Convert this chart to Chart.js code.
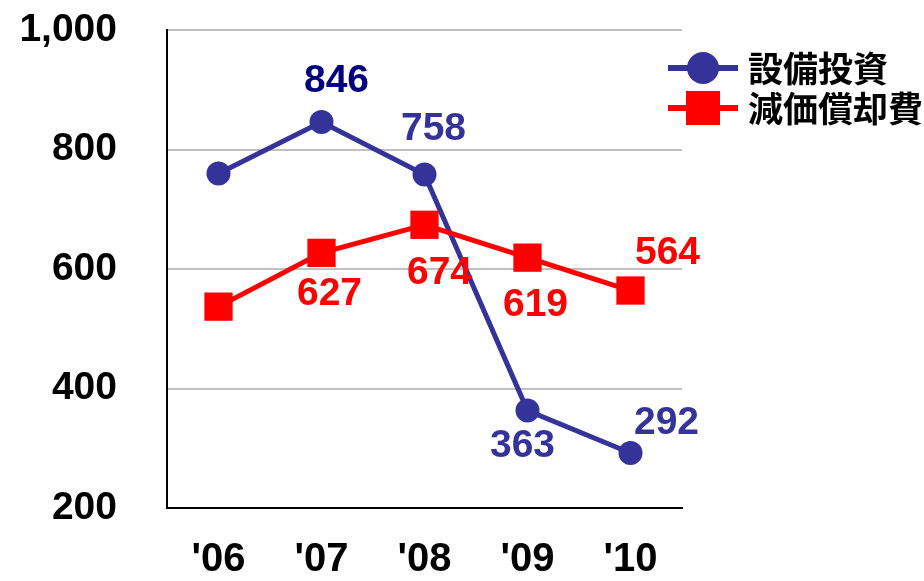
<!DOCTYPE html>
<html><head><meta charset="utf-8">
<script src="https://cdn.jsdelivr.net/npm/chart.js@4/dist/chart.umd.min.js"></script>
<style>html,body{margin:0;padding:0;background:#fff}#wrap{width:924px;height:581px}</style>
</head>
<body><div id="wrap"><canvas id="c" width="924" height="581"></canvas></div>
<script>
// ---- data ----
const categories = ["'06", "'07", "'08", "'09", "'10"];
const capexLabel = "設備投資";
const capexValues = [760, 846, 758, 363, 292];
const deprLabel = "減価償却費";
const deprValues = [537, 627, 674, 619, 564];
const yTickValues = [200, 400, 600, 800, 1000];

// which points carry a value label (the first year is unlabeled)
const capexShowLabel = [false, true, true, true, true];
const deprShowLabel = [false, true, true, true, true];

// ---- styling (kept separate from data) ----
const BLUE = '#333399';
const RED = '#ff0000';
const capexLabelOffsets = [[0,0],[15,-41],[9,-45],[-5,36],[36,-30]];
const capexLabelColors = [BLUE,'#000080',BLUE,BLUE,BLUE];
const deprLabelOffsets = [[0,0],[8,41],[15,48],[8,48],[37,-37]];
const LATIN = "'Liberation Sans', Arial, sans-serif";
const CJK = "'Noto Sans CJK JP', sans-serif";

const valueLabels = {
  id: 'valueLabels',
  afterDatasetsDraw(chart) {
    const ctx = chart.ctx;
    ctx.save();
    ctx.font = 'bold 39px ' + LATIN;
    ctx.textAlign = 'center';
    ctx.textBaseline = 'middle';
    chart.data.datasets.forEach((ds, di) => {
      const meta = chart.getDatasetMeta(di);
      meta.data.forEach((pt, i) => {
        if (!ds.showLabel[i]) return;
        const off = ds.labelOffsets[i];
        ctx.fillStyle = ds.labelColors[i];
        ctx.fillText(String(ds.data[i]), pt.x + off[0], pt.y + off[1]);
      });
    });
    ctx.restore();
  }
};

const customLegend = {
  id: 'customLegend',
  afterDraw(chart) {
    const ctx = chart.ctx;
    const items = [chart.data.datasets[1], chart.data.datasets[0]]; // capex first
    ctx.save();
    items.forEach((ds, k) => {
      const cy = 68 + k * 40;
      const x0 = 668, x1 = 738, cx = 703;
      ctx.strokeStyle = ds.borderColor;
      ctx.lineWidth = 6;
      ctx.beginPath(); ctx.moveTo(x0, cy); ctx.lineTo(x1, cy); ctx.stroke();
      ctx.fillStyle = ds.pointBackgroundColor;
      if (ds.pointStyle === 'circle') {
        ctx.beginPath(); ctx.arc(cx, cy, 16, 0, Math.PI * 2); ctx.fill();
      } else {
        ctx.fillRect(cx - 17, cy - 17, 34, 34);
      }
      ctx.fillStyle = '#000';
      ctx.font = 'bold 35px ' + CJK;
      ctx.textAlign = 'left';
      ctx.textBaseline = 'middle';
      ctx.fillText(ds.label, 748, cy + 1);
    });
    ctx.restore();
  }
};

new Chart(document.getElementById('c'), {
  type: 'line',
  data: {
    labels: categories,
    datasets: [
      {
        label: deprLabel,
        data: deprValues,
        borderColor: RED,
        backgroundColor: RED,
        pointBackgroundColor: RED,
        pointBorderColor: RED,
        borderWidth: 5,
        pointStyle: 'rect',
        pointRadius: 20,
        pointBorderWidth: 0,
        tension: 0,
        order: 1,
        showLabel: deprShowLabel,
        labelOffsets: deprLabelOffsets,
        labelColors: deprValues.map(() => RED)
      },
      {
        label: capexLabel,
        data: capexValues,
        borderColor: BLUE,
        backgroundColor: BLUE,
        pointBackgroundColor: BLUE,
        pointBorderColor: BLUE,
        borderWidth: 5,
        pointStyle: 'circle',
        pointRadius: 12,
        pointBorderWidth: 0,
        tension: 0,
        order: 2,
        showLabel: capexShowLabel,
        labelOffsets: capexLabelOffsets,
        labelColors: capexLabelColors
      }
    ]
  },
  options: {
    responsive: false,
    animation: false,
    devicePixelRatio: 1,
    layout: { padding: { top: 30, right: 242, bottom: 0, left: 0 } },
    plugins: { legend: { display: false }, tooltip: { enabled: false }, title: { display: false } },
    scales: {
      x: {
        type: 'category',
        offset: true,
        grid: { display: false, drawTicks: false },
        border: { display: true, color: '#000', width: 2 },
        ticks: { color: '#000', font: { family: LATIN, size: 40, weight: 'bold' }, padding: 28, maxRotation: 0 },
        afterFit(scale) { scale.height = 73; scale.paddingLeft = 0; scale.paddingRight = 0; }
      },
      y: {
        min: 200, max: 1000,
        afterBuildTicks(scale) { scale.ticks = yTickValues.map(v => ({ value: v })); },
        grid: { color: '#c0c0c0', lineWidth: 2, drawTicks: false },
        border: { display: true, color: '#000', width: 2 },
        ticks: {
          color: '#000', font: { family: LATIN, size: 39, weight: 'bold' }, padding: 50,
          callback: (v) => v.toLocaleString('en-US')
        },
        afterFit(scale) { scale.width = 167; scale.paddingTop = 0; scale.paddingBottom = 0; }
      }
    }
  },
  plugins: [valueLabels, customLegend]
});
</script>
</body></html>
